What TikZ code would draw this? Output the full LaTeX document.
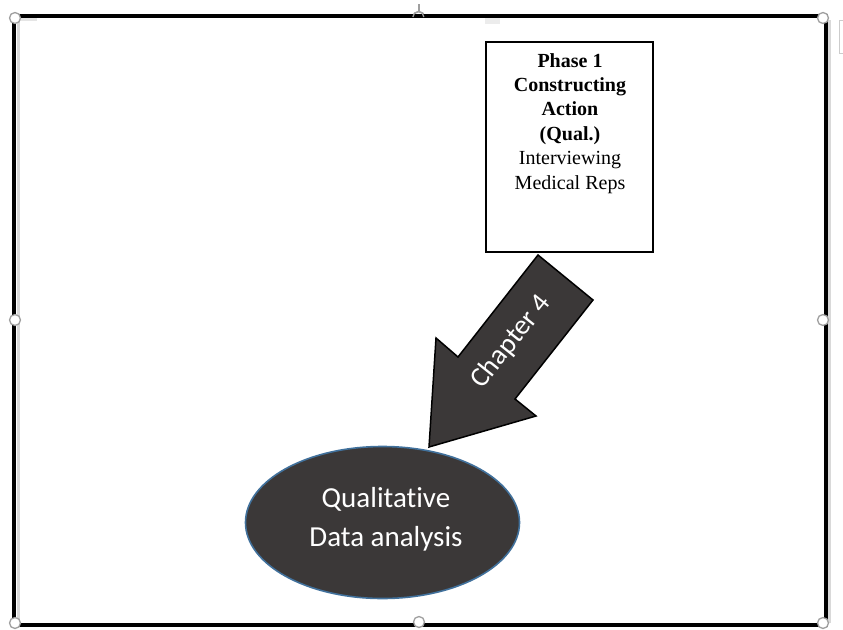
\documentclass[tikz,border=0pt]{standalone}
\usepackage{fontspec}
\setmainfont{Liberation Serif}
\newfontfamily\calib[Ligatures=NoCommon]{Carlito}
\usetikzlibrary{shapes.geometric}
\definecolor{darkfill}{HTML}{3B3838}
\definecolor{ellblue}{HTML}{41719C}
\tikzset{
  frameline/.style={line width=4pt, draw=black},
  handle/.style={circle, draw=gray!75, fill=white, line width=1.3pt, minimum size=11pt, inner sep=0pt},
  phasebox/.style={draw=black, line width=1.1pt, minimum width=167pt, minimum height=210pt, inner sep=0pt},
  phasetext/.style={align=center, inner sep=0pt, font=\fontsize{20}{24.4}\selectfont},
  blockarrow/.style={fill=darkfill, draw=black, line width=1.5pt, line join=miter},
  ellnode/.style={ellipse, fill=darkfill, draw=ellblue, line width=1.6pt, minimum width=274pt, minimum height=152pt, inner sep=0pt, text=white, align=center, font=\calib\fontsize{29}{39}\selectfont},
  arrowlabel/.style={text=white, font=\calib\fontsize{28}{30}\selectfont, inner sep=0pt}
}
\begin{document}
\begin{tikzpicture}[x=1pt, y=-1pt]
\useasboundingbox (0,0) rectangle (843,629);
\fill[white] (0,0) rectangle (843,629);
% frame shadows
\draw[gray!30, line width=3pt] (18.5,20) -- (18.5,623);
\draw[gray!30, line width=3pt] (829.5,20) -- (829.5,623);
\draw[gray!20, line width=3pt] (20,19.5) -- (37,19.5);
\fill[gray!15] (485,18) rectangle (500,24);
% frame
\draw[frameline] (14,16) rectangle (826,625);
% handles
\node[handle] (h1) at (15,18) {};
\node[handle] (h2) at (823,18) {};
\node[handle] (h3) at (15,320) {};
\node[handle] (h4) at (823,320) {};
\node[handle] (h5) at (15,623) {};
\node[handle] (h6) at (823,623) {};
\node[handle] (h7) at (419,622) {};
\coordinate (rt) at (419,4);
\node[handle, fill=white] (h8) at (419,17) {};
\fill[white] (411,17) rectangle (427,25);
\draw[frameline] (410,16) -- (428,16);
\fill[white] (413,17.5) rectangle (425,24);
\draw[gray!75, line width=1.3pt] (h8.west) arc[start angle=180, end angle=0, radius=5.5pt];
\draw[gray!75, line width=1.3pt] (rt) -- (h8.north);
% side bracket
\draw[gray!40, line width=1pt] (843,20) -- (839,20) -- (839,53) -- (843,53);
% phase box
\node[phasebox] (phase) at (569.5,147) {};
\node[phasetext, anchor=north] (ptext) at (570,53) {\textbf{Phase 1}\\ \textbf{Constructing}\\ \textbf{Action}\\ \textbf{(Qual.)}\\ Interviewing\\ Medical Reps};
% ellipse
\node[ellnode] (qda) at (382.5,522.5) {};
\node[text=white, align=center, font=\calib\fontsize{29}{39}\selectfont, inner sep=0pt] (qdatext) at (386,519) {Qualitative\\Data analysis};
% block arrow
\draw[blockarrow] (538,255) -- (593,300) -- (515,399) -- (536,416) -- (429,447) -- (436,338) -- (458,357) -- cycle;
\node[arrowlabel, rotate=51.3] (ch4) at (511,342) {Chapter 4};
\end{tikzpicture}
\end{document}
